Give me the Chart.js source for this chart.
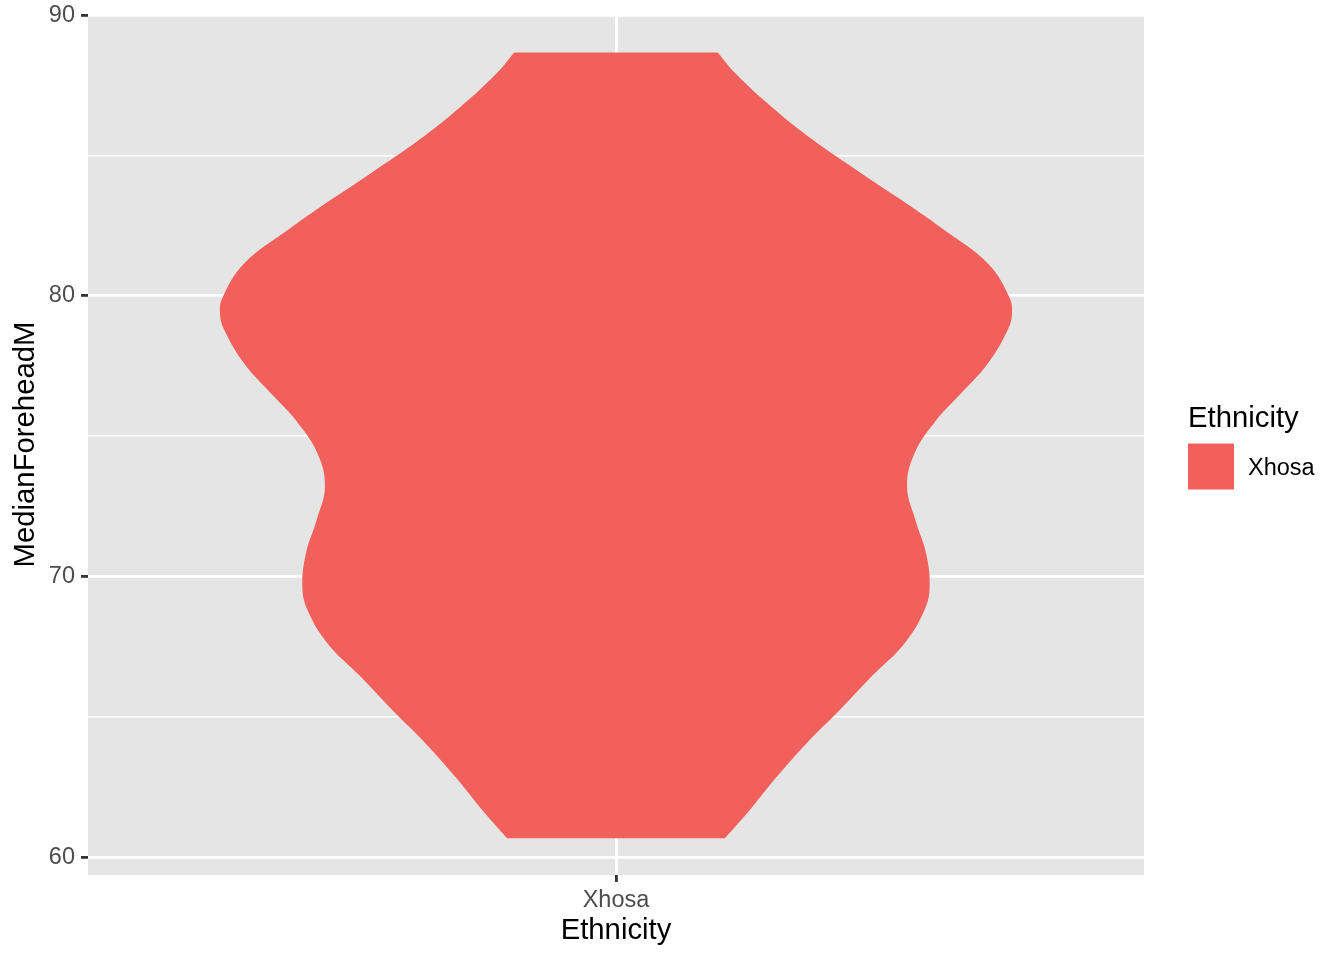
<!DOCTYPE html>
<html lang="en">
<head>
<meta charset="UTF-8">
<title>MedianForeheadM by Ethnicity</title>
<script src="https://cdn.jsdelivr.net/npm/chart.js@4"></script>
<style>
  html, body { margin: 0; padding: 0; background: #ffffff; }
  canvas { display: block; }
</style>
</head>
<body>
<canvas id="violin" width="1344" height="960"></canvas>
<script>
// one category on the x axis
const categories = ['Xhosa'];
const categoryPos = [1];
const legendTitle = 'Ethnicity';

// violin outline: value and relative width (1 = widest)
const yValues = [60.67, 61.68, 62.86, 64.05, 65.24, 66.43, 67.62, 68.80, 69.63, 70.82,
                 72.01, 73.20, 74.39, 75.57, 76.40, 77.59, 78.78, 79.37, 79.96, 81.15,
                 82.34, 83.17, 84.36, 85.55, 86.73, 87.92, 88.67];
const density = [0.275, 0.338, 0.406, 0.481, 0.565, 0.645, 0.729, 0.779, 0.792, 0.783,
                 0.756, 0.735, 0.754, 0.809, 0.863, 0.939, 0.989, 1.000, 0.993, 0.939,
                 0.829, 0.746, 0.620, 0.498, 0.393, 0.302, 0.257];

// axis ticks
const yTicks = [60, 65, 70, 75, 80, 85, 90];
const yLabels = ['60', '', '70', '', '80', '', '90'];

const violinWidth = 0.9;   // ggplot default, share of the category slot
const fillColor = '#F2605C';
const FONT = '"Liberation Sans", Arial, Helvetica, sans-serif';

// right side bottom->top, then left side top->bottom
function violinOutline(center) {
    const right = yValues.map((y, i) => ({ x: center + density[i] * violinWidth / 2, y: y }));
    const left = yValues.map((y, i) => ({ x: center - density[i] * violinWidth / 2, y: y })).reverse();
    // corners repeated so the smoothing keeps the flat cap straight
    return [...right, right[right.length - 1], left[0], ...left];
}

const isMajor = v => v % 10 === 0;

// grey panel behind the grid
const panelBg = {
    id: 'panelBg',
    beforeDraw(chart) {
        const a = chart.chartArea;
        const ctx = chart.ctx;
        ctx.save();
        ctx.fillStyle = '#E5E5E5';
        ctx.fillRect(a.left, a.top, a.right - a.left, a.bottom - a.top);
        ctx.restore();
    }
};

// ggplot style legend on the right
const sideLegend = {
    id: 'sideLegend',
    afterDraw(chart) {
        const ctx = chart.ctx;
        const a = chart.chartArea;
        const ds = chart.data.datasets[0];
        const x = a.right + 44;
        const mid = (a.top + a.bottom) / 2;
        ctx.save();
        ctx.textAlign = 'left';
        ctx.textBaseline = 'alphabetic';
        ctx.fillStyle = '#000000';
        ctx.font = '29.3px ' + FONT;
        ctx.fillText(legendTitle, x, mid - 18);
        ctx.fillStyle = ds.backgroundColor;
        ctx.fillRect(x, mid - 1, 46, 46);
        ctx.fillStyle = '#000000';
        ctx.font = '23.5px ' + FONT;
        ctx.fillText(ds.label, x + 60, mid + 30);
        ctx.restore();
    }
};

new Chart(document.getElementById('violin'), {
    type: 'scatter',
    data: {
        datasets: [{
            label: categories[0],
            data: violinOutline(categoryPos[0]),
            showLine: true,
            fill: 'shape',
            tension: 0.4,
            backgroundColor: fillColor,
            borderWidth: 0,
            borderColor: 'rgba(0,0,0,0)',
            pointRadius: 0
        }]
    },
    options: {
        responsive: false,
        animation: false,
        events: [],
        layout: { padding: { top: 14, left: 0, right: 200, bottom: 0 } },
        plugins: {
            legend: { display: false },
            tooltip: { enabled: false }
        },
        scales: {
            x: {
                type: 'linear',
                min: 0.4,
                max: 1.6,
                afterBuildTicks: axis => { axis.ticks = categoryPos.map(v => ({ value: v })); },
                afterFit: scale => {
                    scale.height = 85;
                    scale.paddingLeft = 0;
                    scale.paddingRight = 0;
                },
                ticks: {
                    autoSkip: false,
                    maxRotation: 0,
                    padding: 4,
                    color: '#4D4D4D',
                    font: { family: FONT, size: 23.5 },
                    callback: (v, i) => categories[i]
                },
                grid: {
                    color: '#FFFFFF',
                    lineWidth: 2.8,
                    tickColor: '#333333',
                    tickWidth: 2.8,
                    tickLength: 7
                },
                border: { display: false },
                title: {
                    display: true,
                    text: 'Ethnicity',
                    color: '#000000',
                    font: { family: FONT, size: 29.3 },
                    padding: { top: 0, bottom: 12 }
                }
            },
            y: {
                type: 'linear',
                min: 59.36,
                max: 90.04,
                afterBuildTicks: axis => { axis.ticks = yTicks.map(v => ({ value: v })); },
                afterFit: scale => {
                    scale.width = 88;
                    scale.paddingTop = 0;
                    scale.paddingBottom = 0;
                },
                ticks: {
                    autoSkip: false,
                    padding: 6,
                    color: '#4D4D4D',
                    font: { family: FONT, size: 23.5 },
                    callback: (v, i) => yLabels[i]
                },
                grid: {
                    color: '#FFFFFF',
                    lineWidth: c => (c.tick && isMajor(c.tick.value)) ? 2.8 : 1.4,
                    tickColor: c => (c.tick && isMajor(c.tick.value)) ? '#333333' : 'rgba(0,0,0,0)',
                    tickWidth: 2.8,
                    tickLength: 7
                },
                border: { display: false },
                title: {
                    display: true,
                    text: 'MedianForeheadM',
                    color: '#000000',
                    font: { family: FONT, size: 29.3 },
                    padding: { top: 8, bottom: 0 }
                }
            }
        }
    },
    plugins: [panelBg, sideLegend]
});
</script>
</body>
</html>
